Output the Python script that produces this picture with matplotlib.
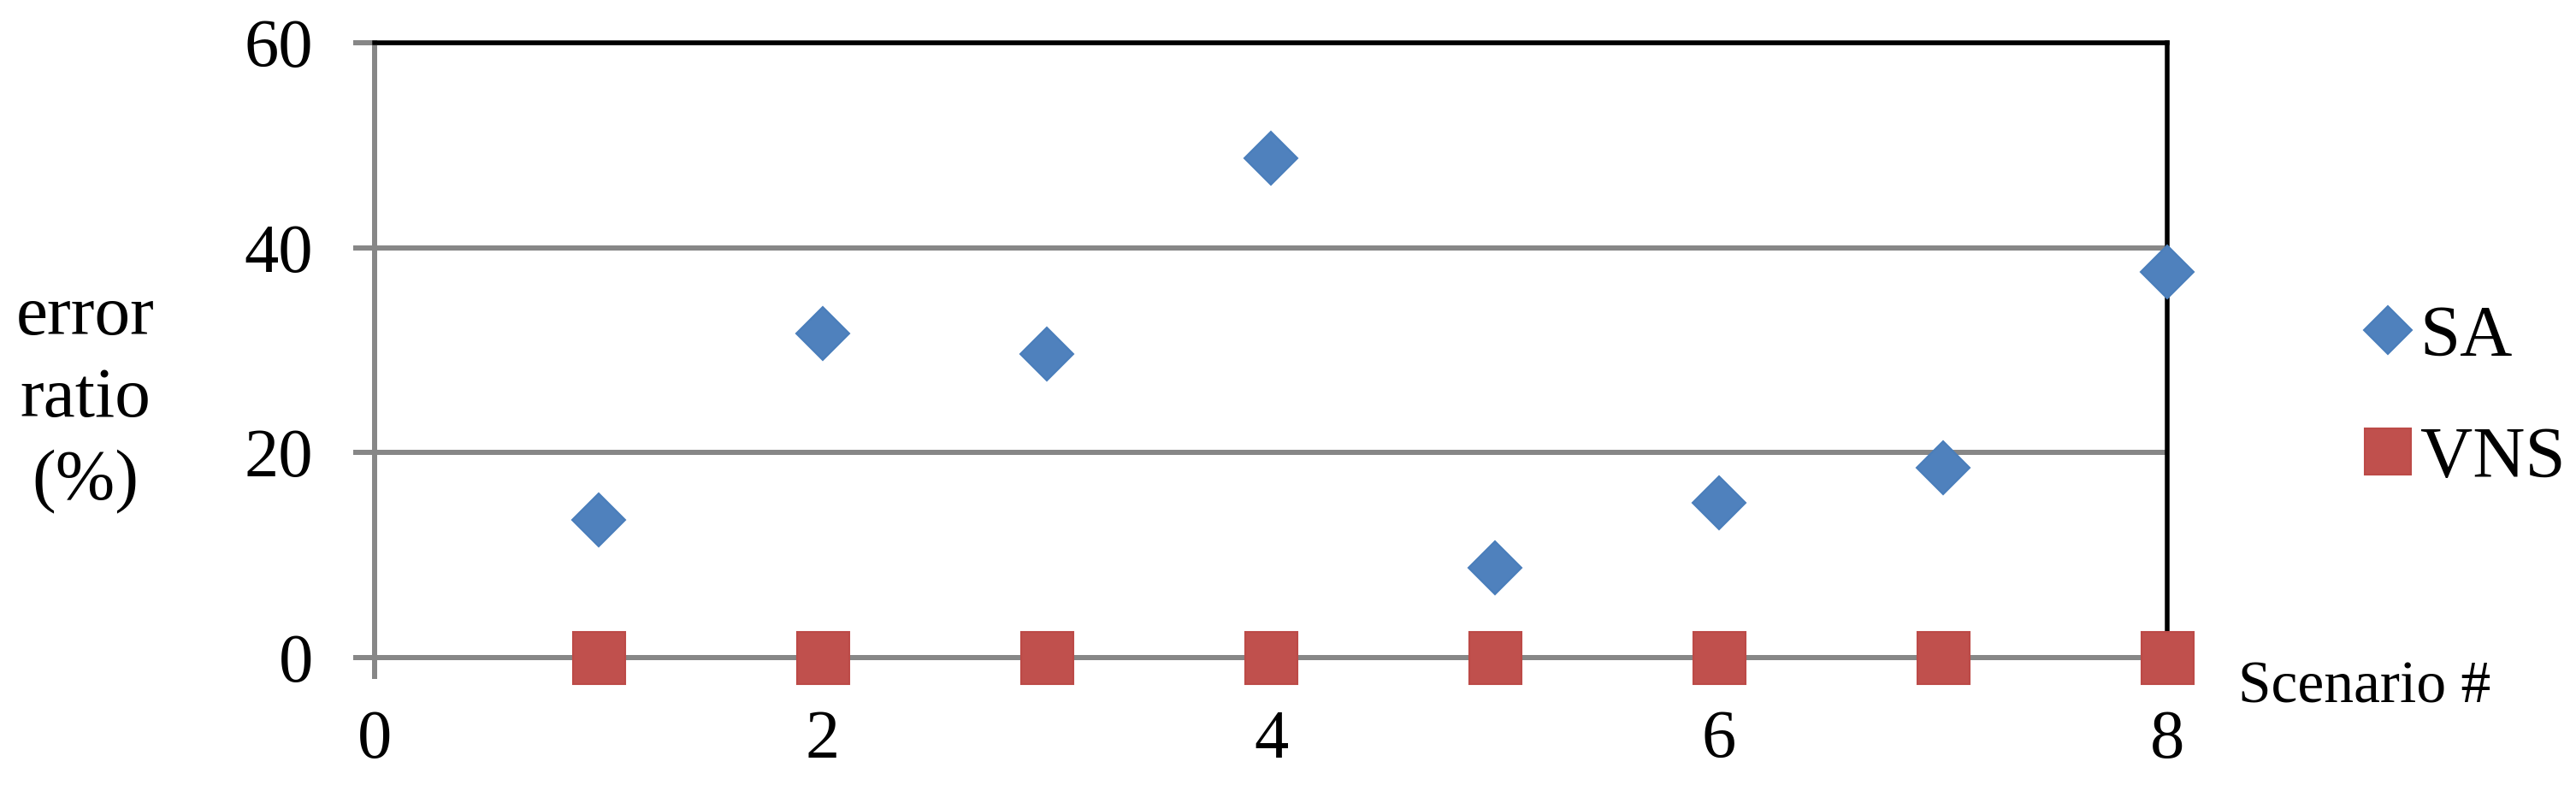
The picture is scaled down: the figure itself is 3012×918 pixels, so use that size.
import matplotlib
matplotlib.use("Agg")
import matplotlib.pyplot as plt

# ---- data ----
scenarios = [1, 2, 3, 4, 5, 6, 7, 8]
sa_values = [13.4, 31.6, 29.6, 48.7, 8.8, 15.1, 18.5, 37.6]
vns_values = [0, 0, 0, 0, 0, 0, 0, 0]
x_ticks = [0, 2, 4, 6, 8]
y_ticks = [0, 20, 40, 60]
series_names = ["SA", "VNS"]
x_label = "Scenario #"
y_label = "error\nratio\n(%)"

W, H, DPI = 3012, 918, 100
plt.rcParams['font.family'] = ['Liberation Serif', 'DejaVu Serif']

fig = plt.figure(figsize=(W / DPI, H / DPI), dpi=DPI)
L, R, T, B = 438, 2534, 50, 769
ax = fig.add_axes([L / W, 1 - B / H, (R - L) / W, (B - T) / H])

GRAY = '#878787'
BLUE, BLUE_E = '#4F81BD', '#4A7EBB'
RED, RED_E = '#C0504D', '#BC4A47'
px = 72 / DPI

ax.set_xlim(0, 8)
ax.set_ylim(0, 60)
ax.set_xticks(x_ticks)
ax.set_yticks(y_ticks)
ax.set_axisbelow(True)
ax.yaxis.grid(True, color=GRAY, linewidth=6 * px)
ax.xaxis.grid(False)

for s in ['left', 'bottom']:
    ax.spines[s].set_color(GRAY)
    ax.spines[s].set_linewidth(6 * px)
for s in ['top', 'right']:
    ax.spines[s].set_color('black')
    ax.spines[s].set_linewidth(5.5 * px)
    ax.spines[s].set_zorder(2.6)

ax.tick_params(axis='both', direction='out', length=25 * px, width=6 * px,
               color=GRAY, labelsize=58, labelcolor='black')
ax.tick_params(axis='y', pad=34)
ax.tick_params(axis='x', pad=26)

ax.plot(scenarios, sa_values, linestyle='none', marker='D', ms=44.5 * px,
        mfc=BLUE, mec=BLUE_E, mew=1.5, clip_on=False, zorder=5, label=series_names[0])
ax.plot(scenarios, vns_values, linestyle='none', marker='s', ms=61 * px,
        mfc=RED, mec=RED_E, mew=1.5, clip_on=False, zorder=5, label=series_names[1])

leg = ax.legend(loc='center left', bbox_to_anchor=(2762 / W, 1 - 466 / H),
                bbox_transform=fig.transFigure, frameon=False, fontsize=61,
                markerscale=0.89, handlelength=0.7, handletextpad=0.1,
                labelspacing=0.76, borderpad=0, borderaxespad=0)

fig.text(2617 / W, 1 - 805 / H, x_label, ha='left', va='center', fontsize=50)
fig.text(100 / W, 1 - 467 / H, y_label, ha='center', va='center',
         multialignment='center', fontsize=60, linespacing=1.36)

fig.savefig('out.png', dpi=DPI)
